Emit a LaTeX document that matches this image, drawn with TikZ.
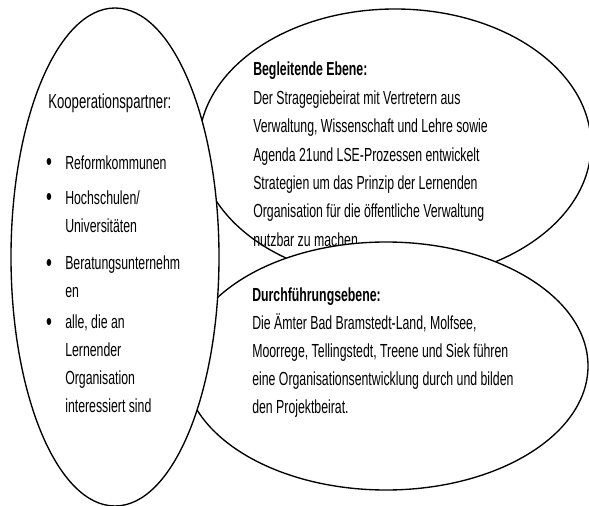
\documentclass[tikz,border=0pt]{standalone}
\usepackage{fontspec}
\setmainfont[FakeStretch=0.65]{Liberation Sans}

\begin{document}
\begin{tikzpicture}[x=0.26mm,y=-0.26mm,
  bubble/.style={draw,fill=white,line width=1pt},
  body/.style={anchor=north west,inner sep=0pt,align=left,font=\fontsize{14}{20.7}\selectfont},
  dot/.style={anchor=base,inner sep=0pt,font=\fontsize{19}{19}\selectfont}]
\useasboundingbox (0,0) rectangle (589,506);
\draw[bubble] (395,145) ellipse (196 and 136);
\node[body,font=\fontsize{14}{21}\selectfont] (begleit) at (253,62) {\textbf{Begleitende Ebene:}\\Der Stragegiebeirat mit Vertretern aus\\Verwaltung, Wissenschaft und Lehre sowie\\Agenda 21und LSE-Prozessen entwickelt\\Strategien um das Prinzip der Lernenden\\Organisation für die öffentliche Verwaltung\\nutzbar zu machen.};
\draw[bubble] (386,366) ellipse (202 and 124);
\node[body] (durch) at (252,288) {\textbf{Durchführungsebene:}\\Die Ämter Bad Bramstedt-Land, Molfsee,\\Moorrege, Tellingstedt, Treene und Siek führen\\eine Organisationsentwicklung durch und bilden\\den Projektbeirat.};
\draw[bubble] (115,257) ellipse (104 and 249);
\node[anchor=base west,inner sep=0pt,font=\fontsize{15}{15}\selectfont] (koop) at (48,109) {Kooperationspartner:};
\node[dot] (dot1) at (49,171) {•};
\node[body] (reform) at (65,156) {Reformkommunen};
\node[dot] (dot2) at (49,206) {•};
\node[body] (hochschule) at (65,191) {Hochschulen/\\Universitäten};
\node[dot] (dot3) at (49,271) {•};
\node[body] (beratung) at (65,256) {Beratungsunternehm\\en};
\node[dot] (dot4) at (49,330) {•};
\node[body] (alle) at (65,315) {alle, die an\\Lernender\\Organisation\\interessiert sind};
\end{tikzpicture}
\end{document}
